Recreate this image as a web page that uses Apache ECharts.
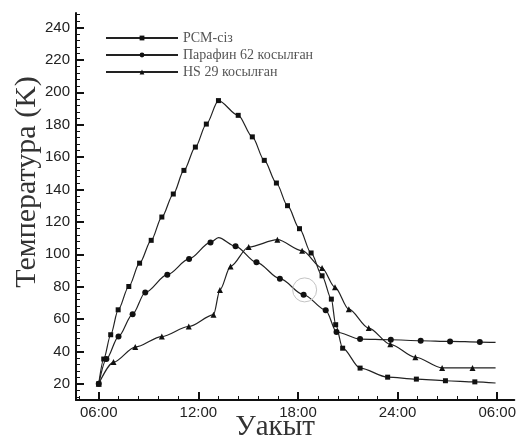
<!DOCTYPE html>
<html>
<head>
<meta charset="utf-8">
<script src="https://cdn.jsdelivr.net/npm/echarts@6/dist/echarts.min.js"></script>
<style>
  html, body { margin: 0; padding: 0; background: #fff; }
  #chart { width: 519px; height: 441px; }
</style>
</head>
<body>
<div id="chart"></div>
<script>
// hours since midnight (30 = 06:00 next day)
var xTickHours = [6, 12, 18, 24, 30];
var xTickLabels = ['06:00', '12:00', '18:00', '24:00', '06:00'];
var yTicks = [20, 40, 60, 80, 100, 120, 140, 160, 180, 200, 220, 240];

var seriesNames = ['PCM-сіз', 'Парафин 62 косылған', 'HS 29 косылған'];

var pcmHours = [6, 6.3, 6.72, 7.17, 7.81, 8.46, 9.16, 9.8, 10.49, 11.13, 11.82, 12.48, 13.21, 14.4, 15.25, 15.97, 16.7, 17.37, 18.09, 18.79, 19.45, 20.01, 20.27, 20.69, 21.74, 23.4, 25.13, 26.88, 28.65, 29.9];
var pcmTemp = [20, 35.3, 50.3, 65.7, 80.1, 94.5, 108.6, 123, 137.2, 151.8, 166.2, 180.4, 194.9, 185.8, 172.5, 158, 144, 130, 115.8, 100.8, 86.7, 72.3, 56.5, 42, 29.7, 24.1, 22.9, 21.9, 21.2, 20.5];

var parHours = [6, 6.46, 7.19, 8.04, 8.8, 10.13, 11.44, 12.73, 13.21, 14.24, 15.5, 16.91, 18.34, 19.67, 20.32, 21.74, 23.59, 25.39, 27.16, 28.95, 29.9];
var parTemp = [20, 35.3, 49.2, 63, 76.4, 87.4, 97.1, 107.3, 110.3, 104.9, 95, 84.9, 75, 65.5, 52, 47.6, 47.2, 46.6, 46.2, 45.8, 45.6];
var parPlain = [13.21, 29.9]; // points on the curve without marker

var hsHours = [6, 6.89, 8.2, 9.8, 11.42, 12.91, 13.3, 13.94, 15.03, 16.76, 18.25, 19.45, 20.23, 21.06, 22.26, 23.56, 25.07, 26.68, 28.51, 29.9];
var hsTemp = [20, 33.4, 42.7, 49.2, 55.4, 62.6, 78, 92.5, 104.5, 109, 102.2, 91.5, 79.6, 66.1, 54.4, 44.4, 36.4, 29.8, 29.8, 29.8];

var circledPoint = [18.4, 78];

var xMin = 4.63, xMax = 31.03, yMin = 10, yMax = 249;

function minorTicks(from, to, step) {
    var out = [];
    for (var v = from; v <= to + 1e-9; v += step) out.push(Math.round(v * 100) / 100);
    return out;
}
var xMinor = minorTicks(4.8, 31, 1.2);
var yMinor = minorTicks(12, 248, 4);

function pairs(hours, temps, plain) {
    return hours.map(function (h, i) {
        var item = { value: [h, temps[i]] };
        if (i === hours.length - 1 || (plain && plain.indexOf(h) >= 0)) item.symbol = 'none';
        return item;
    });
}

var lineStyle = { color: '#222', width: 1.2 };
var axisColor = '#111';

var chart = echarts.init(document.getElementById('chart'));
chart.setOption({
    animation: false,
    backgroundColor: '#fff',
    grid: { left: 76, right: 0, top: 13, bottom: 41 },
    legend: {
        data: seriesNames,
        orient: 'vertical',
        left: 100,
        top: 26,
        itemWidth: 72,
        itemHeight: 6,
        itemGap: 3,
        textStyle: { fontFamily: 'Liberation Serif', fontSize: 14, color: '#555' }
    },
    xAxis: [{
        type: 'value', min: xMin, max: xMax,
        axisLine: { lineStyle: { color: axisColor, width: 2 } },
        axisTick: { inside: true, length: 8, customValues: xTickHours, lineStyle: { color: axisColor, width: 2 } },
        axisLabel: {
            customValues: xTickHours, margin: 5, fontSize: 15, color: '#222', fontFamily: 'Liberation Sans',
            formatter: function (v) { return xTickLabels[xTickHours.indexOf(v)]; }
        },
        splitLine: { show: false }
    }, {
        type: 'value', min: xMin, max: xMax, position: 'bottom',
        axisLine: { show: false },
        axisTick: { inside: true, length: 4, customValues: xMinor, lineStyle: { color: axisColor, width: 1 } },
        axisLabel: { show: false },
        splitLine: { show: false }
    }],
    yAxis: [{
        type: 'value', min: yMin, max: yMax,
        axisLine: { show: true, lineStyle: { color: axisColor, width: 2 } },
        axisTick: { show: true, inside: true, length: 8, customValues: yTicks, lineStyle: { color: axisColor, width: 2 } },
        axisLabel: { customValues: yTicks, margin: 6, fontSize: 15, color: '#222', fontFamily: 'Liberation Sans' },
        splitLine: { show: false }
    }, {
        type: 'value', min: yMin, max: yMax, position: 'left',
        axisLine: { show: false },
        axisTick: { show: true, inside: true, length: 4, customValues: yMinor, lineStyle: { color: axisColor, width: 1 } },
        axisLabel: { show: false },
        splitLine: { show: false }
    }],
    graphic: [{
        type: 'text', x: 27, y: 182, rotation: Math.PI / 2,
        style: { text: 'Температура (K)', font: '30px "Liberation Serif"', fill: '#333', textAlign: 'center', textVerticalAlign: 'middle' }
    }, {
        type: 'text', x: 275, y: 427,
        style: { text: 'Уакыт', font: '29px "Liberation Serif"', fill: '#333', textAlign: 'center', textVerticalAlign: 'middle' }
    }],
    series: [{
        name: seriesNames[0], type: 'line', smooth: 0.3, smoothMonotone: 'x',
        symbol: 'rect', symbolSize: 5,
        lineStyle: lineStyle, itemStyle: { color: '#111' },
        data: pairs(pcmHours, pcmTemp)
    }, {
        name: seriesNames[1], type: 'line', smooth: 0.3, smoothMonotone: 'x',
        symbol: 'circle', symbolSize: 6,
        lineStyle: lineStyle, itemStyle: { color: '#111' },
        data: pairs(parHours, parTemp, parPlain),
        markPoint: {
            silent: true, symbol: 'circle', symbolSize: 24,
            itemStyle: { color: 'rgba(0,0,0,0)', borderColor: '#c4c4c4', borderWidth: 1 },
            label: { show: false },
            data: [{ coord: circledPoint }]
        }
    }, {
        name: seriesNames[2], type: 'line', smooth: 0.3, smoothMonotone: 'x',
        symbol: 'triangle', symbolSize: 6,
        lineStyle: lineStyle, itemStyle: { color: '#111' },
        data: pairs(hsHours, hsTemp)
    }]
});
</script>
</body>
</html>
